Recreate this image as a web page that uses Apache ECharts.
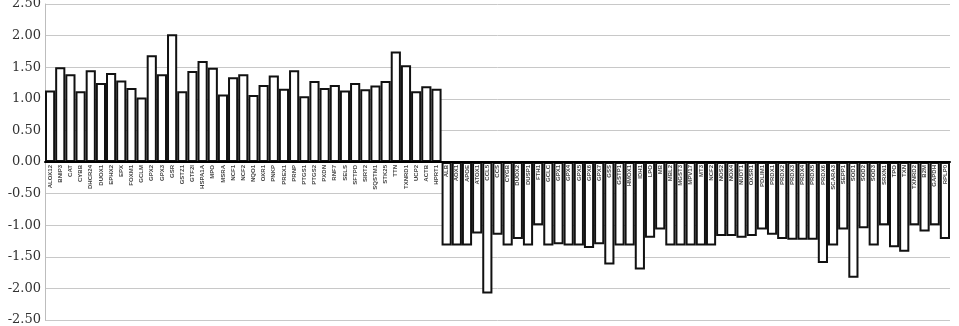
<!DOCTYPE html>
<html><head><meta charset="utf-8">
<script src="https://cdn.jsdelivr.net/npm/echarts@6/dist/echarts.min.js"></script>
<style>html,body{margin:0;padding:0;background:#fff}#c{width:959px;height:326px}</style>
</head><body><div id="c"></div>
<script>
const upGenes = ["ALOX12","BNIP3","CAT","CYBB","DHCR24","DUOX1","EPHX2","EPX","FOXM1","GCLM","GPX2","GPX3","GSR","GSTZ1","GTF2I","HSPA1A","MPO","MSRA","NCF1","NCF2","NQO1","OXR1","PNKP","PREX1","PRNP","PTGS1","PTGS2","PXDN","RNF7","SELS","SFTPD","SIRT2","SQSTM1","STK25","TTN","TXNRD1","UCP2","ACTB","HPRT1"];
const upValues = [1.13,1.50,1.39,1.12,1.45,1.25,1.41,1.29,1.17,1.02,1.69,1.39,2.02,1.12,1.44,1.60,1.49,1.07,1.34,1.39,1.06,1.22,1.37,1.16,1.45,1.04,1.28,1.17,1.22,1.13,1.25,1.15,1.21,1.28,1.75,1.53,1.12,1.20,1.16];
const downGenes = ["ALB","AOX1","APOE","ATOX1","CCL5","CCS","CYGB","DUOX2","DUSP1","FTH1","GCLC","GPX1","GPX4","GPX5","GPX6","GPX7","GSS","GSTP1","HMOX1","IDH1","LPO","MB","MBL2","MGST3","MPV17","MT3","NCF2","NOS2","NOX4","NUDT1","OXSR1","PDLIM1","PRDX1","PRDX2","PRDX3","PRDX4","PRDX5","PRDX6","SCARA3","SEPP1","SOD1","SOD2","SOD3","SRXN1","TPO","TXN","TXNRD2","B2M","GAPDH","RPLP0"];
const downValues = [-1.32,-1.32,-1.32,-1.13,-2.08,-1.15,-1.32,-1.22,-1.32,-1.00,-1.32,-1.30,-1.32,-1.32,-1.36,-1.30,-1.62,-1.32,-1.32,-1.70,-1.20,-1.07,-1.32,-1.32,-1.32,-1.32,-1.32,-1.17,-1.17,-1.20,-1.17,-1.07,-1.15,-1.22,-1.23,-1.23,-1.23,-1.60,-1.32,-1.07,-1.83,-1.05,-1.32,-1.00,-1.35,-1.42,-1.00,-1.10,-1.00,-1.22];
const yMin = -2.5, yMax = 2.5, yStep = 0.5;

const categories = upGenes.concat(downGenes);
const values = upValues.concat(downValues);

// gene names are drawn as bar labels, just under the zero line
const barData = values.map(v => ({
  value: v,
  label: { position: v >= 0 ? 'bottom' : 'insideTop' }
}));

const gridTop = 4, gridBottom = 6, H = 326;
const plotH = H - gridTop - gridBottom;
const zeroOffset = -plotH * (0 - yMin) / (yMax - yMin);

const chart = echarts.init(document.getElementById('c'), null, {renderer:'canvas'});
chart.setOption({
  animation:false,
  backgroundColor:'#fff',
  grid:{left:45, right:9, top:gridTop, bottom:gridBottom, containLabel:false, outerBoundsMode:'none'},
  xAxis:{
    type:'category', data:categories, position:'bottom', offset:zeroOffset, z:10,
    axisLine:{onZero:false, lineStyle:{color:'#000', width:2}},
    axisTick:{show:false},
    axisLabel:{show:false},
    splitLine:{show:false}
  },
  yAxis:{
    type:'value', min:yMin, max:yMax, interval:yStep,
    axisLine:{show:true, lineStyle:{color:'#bdbdbd', width:1}},
    axisTick:{show:false},
    axisLabel:{formatter:v=>v.toFixed(2), fontFamily:'DejaVu Serif, Liberation Serif, serif', fontSize:13, color:'#333', margin:4},
    splitLine:{show:true, lineStyle:{color:'#c8c8c8', width:1}}
  },
  series:[{
    type:'bar', data:barData, barCategoryGap:'0%', z:2,
    itemStyle:{color:'#fff', borderColor:'#111', borderWidth:2},
    label:{show:true, formatter:'{b}', rotate:90, align:'right', verticalAlign:'middle', distance:3,
      fontSize:6, fontWeight:'bold', fontFamily:'Liberation Sans, Arial', color:'#444',
      textBorderWidth:0, backgroundColor:'transparent'}
  }]
});
</script></body></html>
